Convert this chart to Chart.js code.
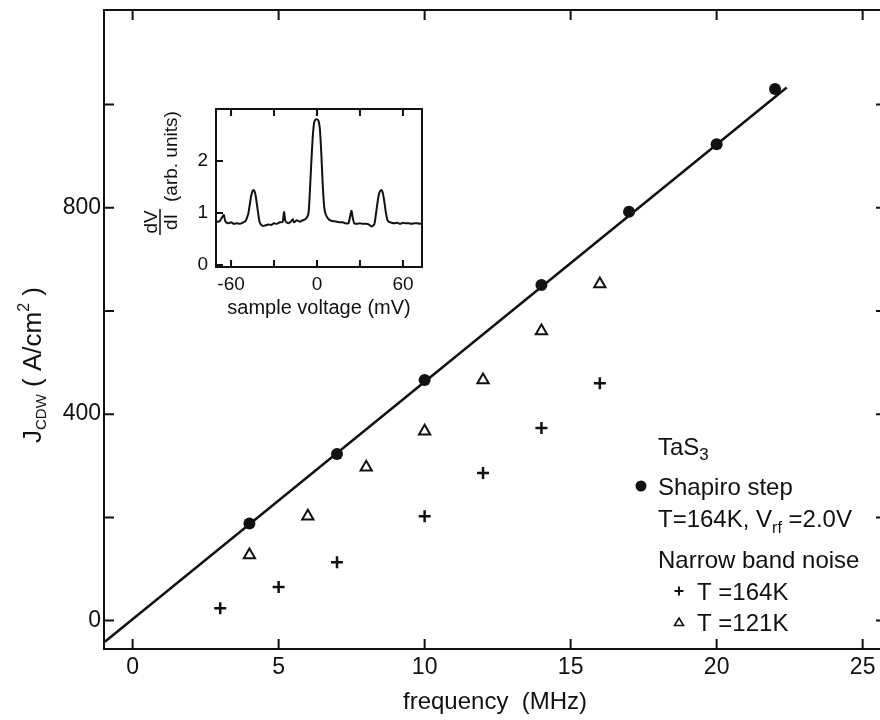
<!DOCTYPE html>
<html>
<head>
<meta charset="utf-8">
<script src="https://cdn.jsdelivr.net/npm/chart.js@4.4.1/dist/chart.umd.min.js"></script>
<style>
  html, body { margin: 0; padding: 0; background: #fff; overflow: hidden; }
  #wrap { position: relative; width: 880px; height: 720px; overflow: hidden; }
  #mainChart { position: absolute; left: 0; top: 0; }
  #insetChart { position: absolute; left: 110px; top: 90px; }
</style>
</head>
<body>
<div id="wrap">
  <canvas id="mainChart" width="886" height="720"></canvas>
  <canvas id="insetChart" width="330" height="240"></canvas>
</div>
<script>
// main panel: CDW current density vs frequency (TaS3)
const shapiroFreq = [4, 7, 10, 14, 17, 20, 22];
const shapiroJ = [188, 323, 466, 650, 792, 923, 1030];
const noise164Freq = [3, 5, 7, 10, 12, 14, 16];
const noise164J = [24, 65, 113, 202, 286, 373, 460];
const noise121Freq = [4, 6, 8, 10, 12, 14, 16];
const noise121J = [127, 202, 297, 367, 466, 561, 652];
const fitFreq = [-0.95, 22.4];
const fitJ = [-41, 1033];

const freqTicks = [0, 5, 10, 15, 20, 25];
const freqTickLabels = ["0", "5", "10", "15", "20", "25"];
const jTicks = [0, 200, 400, 600, 800, 1000];
const jTickLabels = ["0", "", "400", "", "800", ""];

// inset: dV/dI vs sample voltage
const insetVoltage = [-70, -68, -66, -65, -64, -62, -60, -58, -56, -54, -52, -50, -48, -47, -46, -45, -44, -43, -42, -41,
  -40, -38, -36, -34, -32, -30, -28, -26, -24, -23, -22, -20, -18, -17, -16, -14, -12, -10, -8, -6,
  -5, -4, -3, -2, -1, 0, 1, 2, 3, 4, 5, 6, 8, 10, 12, 14, 16, 18, 20, 22,
  24, 25, 26, 28, 30, 32, 34, 36, 38, 40, 41, 42, 43, 44, 45, 46, 47, 48, 49, 50,
  52, 54, 56, 58, 60, 62, 64, 66, 68, 70, 72, 73];
const insetDvdi = [0.83, 0.84, 0.93, 0.96, 0.84, 0.80, 0.82, 0.79, 0.80, 0.79, 0.81, 0.84, 0.98, 1.15, 1.32, 1.42, 1.44, 1.36, 1.18, 0.98,
  0.82, 0.75, 0.76, 0.78, 0.77, 0.80, 0.79, 0.82, 0.83, 1.02, 0.84, 0.80, 0.84, 0.88, 0.82, 0.86, 0.83, 0.86, 0.88, 0.98,
  1.40, 1.95, 2.45, 2.74, 2.80, 2.80, 2.78, 2.62, 2.15, 1.55, 1.12, 0.98, 0.88, 0.85, 0.84, 0.83, 0.82, 0.82, 0.80, 0.80,
  1.04, 0.90, 0.80, 0.79, 0.80, 0.79, 0.79, 0.78, 0.74, 0.78, 0.95, 1.15, 1.33, 1.42, 1.44, 1.38, 1.22, 1.02, 0.88, 0.83,
  0.81, 0.80, 0.81, 0.79, 0.81, 0.80, 0.80, 0.79, 0.80, 0.80, 0.79, 0.80];
const voltTicks = [-60, -30, 0, 30, 60];
const voltTickLabels = ["-60", "", "0", "", "60"];
const dvdiTicks = [0, 1, 2];
const dvdiTickLabels = ["0", "1", "2"];

const FONT = "'Liberation Sans', Arial, sans-serif";
const INK = "#111";

function pts(xs, ys) {
  return xs.map((x, i) => ({ x: x, y: ys[i] }));
}

// text run with sub/superscripts: parts = [text, size, baseline shift]
function richText(ctx, parts, x, y, rotate, align) {
  ctx.save();
  ctx.translate(x, y);
  if (rotate) ctx.rotate(-Math.PI / 2);
  ctx.fillStyle = INK;
  ctx.textBaseline = "alphabetic";
  ctx.textAlign = "left";
  let total = 0;
  parts.forEach(p => { ctx.font = p[1] + "px " + FONT; total += ctx.measureText(p[0]).width; });
  let u = align === "center" ? -total / 2 : 0;
  parts.forEach(p => {
    ctx.font = p[1] + "px " + FONT;
    ctx.fillText(p[0], u, p[2] || 0);
    u += ctx.measureText(p[0]).width;
  });
  ctx.restore();
}

// box around the plot area with inward ticks
const framePlugin = {
  id: "frame",
  afterDraw(chart, args, opts) {
    const { ctx, chartArea: a, scales } = chart;
    const len = opts.len;
    const sides = opts.sides;
    ctx.save();
    ctx.strokeStyle = INK;
    ctx.lineWidth = 2;
    ctx.strokeRect(a.left, a.top, a.right - a.left, a.bottom - a.top);
    ctx.beginPath();
    scales.x.ticks.forEach(t => {
      const px = scales.x.getPixelForValue(t.value);
      if (sides.includes("bottom")) { ctx.moveTo(px, a.bottom); ctx.lineTo(px, a.bottom - len); }
      if (sides.includes("top")) { ctx.moveTo(px, a.top); ctx.lineTo(px, a.top + len); }
    });
    scales.y.ticks.forEach(t => {
      const py = scales.y.getPixelForValue(t.value);
      if (sides.includes("left")) { ctx.moveTo(a.left, py); ctx.lineTo(a.left + len, py); }
      if (sides.includes("right")) { ctx.moveTo(a.right, py); ctx.lineTo(a.right - len, py); }
    });
    ctx.stroke();
    ctx.restore();
  }
};

const mainText = {
  id: "mainText",
  afterDraw(chart) {
    const ctx = chart.ctx;
    richText(ctx, [["J", 26], ["CDW", 15, 5], [" ( A/cm", 26], ["2", 16, -12], [" )", 26]], 41, 365, true, "center");

    // legend
    richText(ctx, [["TaS", 24], ["3", 17, 5]], 658, 455);
    richText(ctx, [["Shapiro step", 24]], 658, 495);
    richText(ctx, [["T=164K, V", 24], ["rf", 16, 6], [" =2.0V", 24]], 658, 527);
    richText(ctx, [["Narrow band noise", 24]], 658, 568);
    richText(ctx, [["T =164K", 24]], 697, 600);
    richText(ctx, [["T =121K", 24]], 697, 631);

    ctx.save();
    ctx.fillStyle = INK;
    ctx.strokeStyle = INK;
    ctx.beginPath();
    ctx.arc(641, 486, 5.5, 0, Math.PI * 2);
    ctx.fill();
    ctx.lineWidth = 2;
    ctx.beginPath();
    ctx.moveTo(674.5, 591); ctx.lineTo(683.5, 591);
    ctx.moveTo(679, 586.5); ctx.lineTo(679, 595.5);
    ctx.stroke();
    ctx.lineWidth = 1.6;
    ctx.beginPath();
    ctx.moveTo(679, 618); ctx.lineTo(683.5, 625.5); ctx.lineTo(674.5, 625.5); ctx.closePath();
    ctx.stroke();
    ctx.restore();
  }
};

const insetText = {
  id: "insetText",
  afterDraw(chart) {
    const ctx = chart.ctx;
    // dV/dI fraction + "(arb. units)", rotated
    ctx.save();
    ctx.translate(50, 132);
    ctx.rotate(-Math.PI / 2);
    ctx.fillStyle = INK;
    ctx.strokeStyle = INK;
    ctx.font = "19px " + FONT;
    ctx.textAlign = "center";
    ctx.textBaseline = "alphabetic";
    ctx.fillText("dV", 0, -3);
    ctx.fillText("dI", 0, 17);
    ctx.lineWidth = 1.5;
    ctx.beginPath();
    ctx.moveTo(-13, 0); ctx.lineTo(13, 0);
    ctx.stroke();
    ctx.textAlign = "left";
    ctx.fillText("(arb. units)", 20, 17);
    ctx.restore();
  }
};

new Chart(document.getElementById("mainChart").getContext("2d"), {
  type: "scatter",
  data: {
    datasets: [{
      label: "Shapiro step",
      data: pts(shapiroFreq, shapiroJ),
      pointStyle: "circle",
      pointRadius: 6,
      backgroundColor: INK,
      borderColor: INK,
      borderWidth: 0
    }, {
      label: "NBN T=164K",
      data: pts(noise164Freq, noise164J),
      pointStyle: "cross",
      pointRadius: 6,
      borderColor: INK,
      borderWidth: 2.5
    }, {
      label: "NBN T=121K",
      data: pts(noise121Freq, noise121J),
      pointStyle: "triangle",
      pointRadius: 6.5,
      backgroundColor: "#fff",
      borderColor: INK,
      borderWidth: 2
    }, {
      label: "fit",
      data: pts(fitFreq, fitJ),
      showLine: true,
      pointRadius: 0,
      borderColor: INK,
      borderWidth: 2.5
    }]
  },
  options: {
    responsive: false,
    animation: false,
    devicePixelRatio: 1,
    layout: { autoPadding: false, padding: { top: 10, left: 0, right: 0, bottom: 0 } },
    plugins: {
      legend: { display: false },
      tooltip: { enabled: false },
      frame: { len: 10, sides: ["bottom", "top", "left", "right"] }
    },
    scales: {
      x: {
        type: "linear",
        min: -0.98,
        max: 25.8,
        grid: { display: false, drawTicks: false },
        border: { display: false },
        afterBuildTicks: s => { s.ticks = freqTicks.map(v => ({ value: v })); },
        afterFit: s => { s.height = 71; s.paddingLeft = 0; s.paddingRight = 0; },
        ticks: {
          autoSkip: false,
          maxRotation: 0,
          padding: 5,
          color: INK,
          font: { family: FONT, size: 23 },
          callback: (v, i) => freqTickLabels[i]
        },
        title: {
          display: true,
          text: "frequency  (MHz)",
          color: INK,
          font: { family: FONT, size: 24 },
          padding: { top: 0, bottom: 3 }
        }
      },
      y: {
        type: "linear",
        min: -55,
        max: 1183,
        grid: { display: false, drawTicks: false },
        border: { display: false },
        afterBuildTicks: s => { s.ticks = jTicks.map(v => ({ value: v })); },
        afterFit: s => { s.width = 104; s.paddingTop = 0; s.paddingBottom = 0; },
        ticks: {
          autoSkip: false,
          padding: 3,
          color: INK,
          font: { family: FONT, size: 23 },
          callback: (v, i) => jTickLabels[i]
        }
      }
    }
  },
  plugins: [framePlugin, mainText]
});

new Chart(document.getElementById("insetChart").getContext("2d"), {
  type: "scatter",
  data: {
    datasets: [{
      label: "dV/dI",
      data: pts(insetVoltage, insetDvdi),
      showLine: true,
      pointRadius: 0,
      borderColor: INK,
      borderWidth: 2,
      tension: 0.2
    }]
  },
  options: {
    responsive: false,
    animation: false,
    devicePixelRatio: 1,
    layout: { autoPadding: false, padding: { top: 19, right: 18, left: 0, bottom: 0 } },
    plugins: {
      legend: { display: false },
      tooltip: { enabled: false },
      frame: { len: 7, sides: ["bottom", "top", "left"] }
    },
    scales: {
      x: {
        type: "linear",
        min: -70.5,
        max: 73.3,
        grid: { display: false, drawTicks: false },
        border: { display: false },
        afterBuildTicks: s => { s.ticks = voltTicks.map(v => ({ value: v })); },
        afterFit: s => { s.height = 63; s.paddingLeft = 0; s.paddingRight = 0; },
        ticks: {
          autoSkip: false,
          maxRotation: 0,
          padding: 6,
          color: INK,
          font: { family: FONT, size: 19 },
          callback: (v, i) => voltTickLabels[i]
        },
        title: {
          display: true,
          text: "sample voltage (mV)",
          color: INK,
          font: { family: FONT, size: 20 },
          padding: { top: 0, bottom: 10 }
        }
      },
      y: {
        type: "linear",
        min: -0.04,
        max: 3.0,
        grid: { display: false, drawTicks: false },
        border: { display: false },
        afterBuildTicks: s => { s.ticks = dvdiTicks.map(v => ({ value: v })); },
        afterFit: s => { s.width = 106; s.paddingTop = 0; s.paddingBottom = 0; },
        ticks: {
          autoSkip: false,
          padding: 8,
          color: INK,
          font: { family: FONT, size: 19 },
          callback: (v, i) => dvdiTickLabels[i]
        }
      }
    }
  },
  plugins: [framePlugin, insetText]
});
</script>
</body>
</html>
